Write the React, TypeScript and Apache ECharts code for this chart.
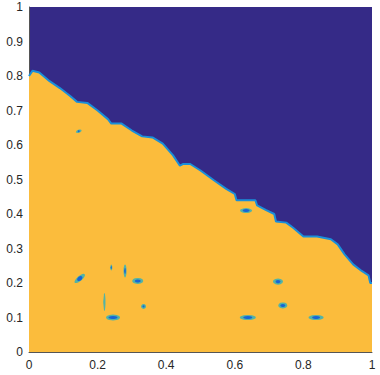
import React, { useEffect, useRef } from "react";
import * as echarts from "echarts";

// Boundary between the yellow (lower) region and the dark-blue (upper) region
const boundaryX = [0, 0.01, 0.03, 0.06, 0.09, 0.12, 0.14, 0.17, 0.2, 0.23, 0.24, 0.27, 0.3, 0.33, 0.36, 0.39, 0.42, 0.44, 0.45, 0.47, 0.5, 0.54, 0.575, 0.6, 0.605, 0.66, 0.665, 0.69, 0.715, 0.72, 0.75, 0.77, 0.8, 0.84, 0.88, 0.9, 0.92, 0.945, 0.97, 0.99, 0.995, 1];
const boundaryY = [0.8, 0.815, 0.81, 0.785, 0.765, 0.742, 0.725, 0.722, 0.7, 0.675, 0.662, 0.662, 0.642, 0.625, 0.622, 0.604, 0.57, 0.54, 0.545, 0.545, 0.526, 0.497, 0.473, 0.458, 0.44, 0.44, 0.425, 0.412, 0.4, 0.378, 0.375, 0.36, 0.335, 0.335, 0.327, 0.312, 0.283, 0.254, 0.235, 0.222, 0.2, 0.2];

// Small blue spots inside the yellow region
const blobX = [0.145, 0.148, 0.24, 0.28, 0.317, 0.22, 0.245, 0.334, 0.726, 0.74, 0.638, 0.837, 0.633];
const blobY = [0.64, 0.213, 0.245, 0.235, 0.206, 0.145, 0.1, 0.132, 0.204, 0.135, 0.1, 0.1, 0.41];

const xTicks = [0, 0.2, 0.4, 0.6, 0.8, 1];
const yTicks = [0, 0.1, 0.2, 0.3, 0.4, 0.5, 0.6, 0.7, 0.8, 0.9, 1];

// visual sizes (px) of the spots: [haloW, haloH, coreW, coreH, rotation]
const blobShape = [
  [6, 3, 2, 2, 20],
  [13, 5, 6, 4, 40],
  [2, 6, 1, 3, 0],
  [3, 13, 1.5, 6, 0],
  [11, 6, 6, 3, 0],
  [2, 18, 0, 0, 0],
  [14, 6, 9, 3, 0],
  [5, 5, 2, 2, 0],
  [10, 6, 5, 3, 0],
  [9, 6, 5, 3, 0],
  [16, 5, 9, 3, 0],
  [15, 5, 8, 3, 0],
  [12, 5, 7, 3, 0],
];

export default function App() {
  const ref = useRef<HTMLDivElement>(null);
  useEffect(() => {
    document.body.style.margin = "0";
    const chart = echarts.init(ref.current!, null, { renderer: "svg" });
    const boundary = boundaryX.map((x, i) => [x, boundaryY[i]]);
    const halo = blobX.map((x, i) => ({
      value: [x, blobY[i]],
      symbolSize: [blobShape[i][0], blobShape[i][1]],
      symbolRotate: blobShape[i][4],
    }));
    const core = blobX
      .map((x, i) => ({
        value: [x, blobY[i]],
        symbolSize: [blobShape[i][2], blobShape[i][3]],
        symbolRotate: blobShape[i][4],
      }))
      .filter((d) => d.symbolSize[0] > 0);
    const labelStyle = { color: "#262626", fontSize: 12, fontFamily: "Liberation Sans, Arial, sans-serif" };
    chart.setOption({
      animation: false,
      grid: { left: 29, right: 8, top: 7, bottom: 23, backgroundColor: "#352A87", show: true, borderWidth: 0 },
      xAxis: {
        type: "value",
        min: 0,
        max: 1,
        interval: 0.2,
        splitLine: { show: false },
        axisTick: { show: false },
        axisLine: { show: true, onZero: false, lineStyle: { color: "#555", width: 1 } },
        axisLabel: { ...labelStyle, margin: 7, formatter: (v: number) => (xTicks.includes(+v.toFixed(1)) ? String(+v.toFixed(1)) : "") },
      },
      yAxis: {
        type: "value",
        min: 0,
        max: 1,
        interval: 0.1,
        splitLine: { show: false },
        axisTick: { show: false },
        axisLine: { show: true, onZero: false, lineStyle: { color: "#555", width: 1 } },
        axisLabel: { ...labelStyle, margin: 6, formatter: (v: number) => (yTicks.includes(+v.toFixed(1)) ? String(+v.toFixed(1)) : "") },
      },
      series: [
        {
          type: "line",
          data: boundary,
          symbol: "none",
          lineStyle: { color: "#1A8FDA", width: 2 },
          areaStyle: { color: "#FBBC3C", opacity: 1, origin: "start" },
          z: 2,
        },
        {
          type: "scatter",
          data: halo,
          symbol: "circle",
          itemStyle: { color: "#35B2B8", opacity: 0.85 },
          z: 3,
        },
        {
          type: "scatter",
          data: core,
          symbol: "circle",
          itemStyle: { color: "#1460D8", opacity: 0.95 },
          z: 4,
        },
      ],
    });
    return () => chart.dispose();
  }, []);
  return <div ref={ref} style={{ position: "absolute", left: 0, top: 0, width: 380, height: 375 }} />;
}
